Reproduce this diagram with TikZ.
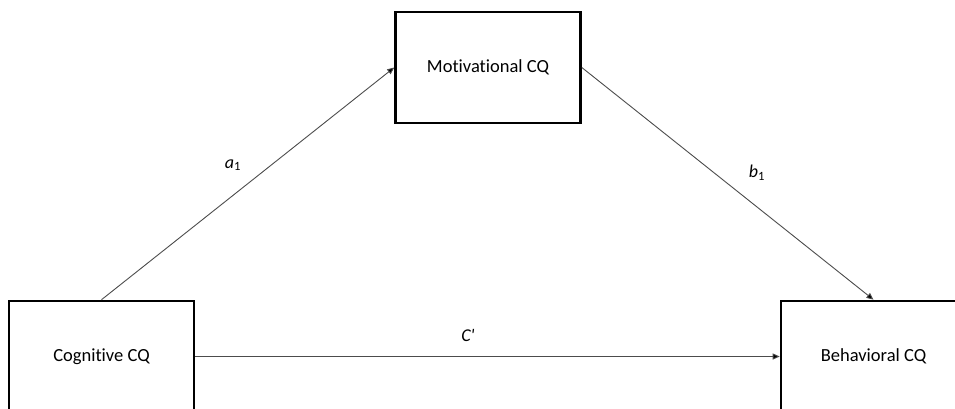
\documentclass[tikz,border=0pt]{standalone}
\usepackage{fontspec}
\setmainfont{Carlito}[Ligatures=NoCommon]
\usetikzlibrary{arrows.meta}
\begin{document}
\begin{tikzpicture}[x=1pt,y=-1pt,
  construct/.style={draw=black,line width=2.6pt,minimum width=185pt,minimum height=111pt,
    inner sep=0pt,font=\fontsize{18.5}{21}\selectfont},
  path/.style={draw=black!70,line width=0.9pt,-{Triangle[length=7pt,width=6pt,fill=black]}},
  coef/.style={font=\fontsize{18}{21}\selectfont\itshape,inner sep=0pt}]
  \useasboundingbox (0,0) rectangle (955,408);
  \clip (0,0) rectangle (955,408);
  % the three constructs
  \node[construct] (mot) at (488,67.5) {Motivational CQ};
  \node[construct] (cog) at (101.5,356.5) {Cognitive CQ};
  \node[construct] (beh) at (873.5,356.5) {Behavioral CQ};
  % paths between them
  \draw[path] (cog.north) -- (mot.west);
  \draw[path] (mot.east) -- (beh.north);
  \draw[path] (cog.east) -- (beh.west);
  % path coefficients
  \node[coef] (a1) at (233,165) {a\textsubscript{\upshape 1}};
  \node[coef] (b1) at (757,173) {b\textsubscript{\upshape 1}};
  \node[coef] (cp) at (468,335) {C\textquotesingle};
\end{tikzpicture}
\end{document}
